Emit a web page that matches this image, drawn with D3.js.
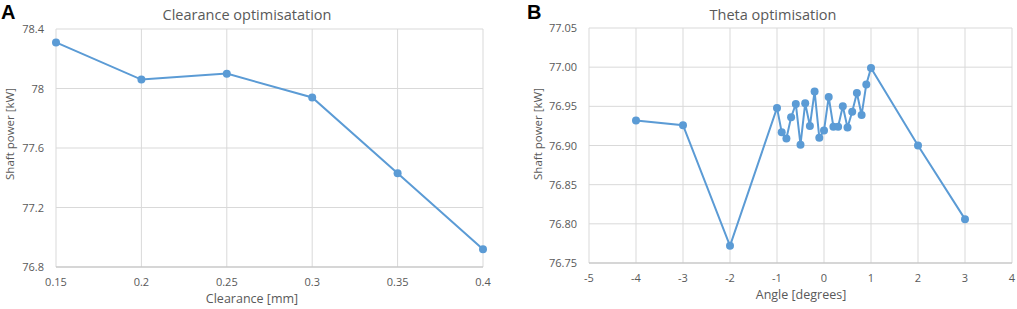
<!DOCTYPE html>
<html>
<head>
<meta charset="utf-8">
<script src="https://cdn.jsdelivr.net/npm/d3@7"></script>
<style>
  body { margin: 0; background: #fff; }
  svg text { font-family: "Open Sans", sans-serif; fill: #595959; }
  .panel-label { font-family: "Liberation Sans", Arial, sans-serif; font-weight: bold; fill: #000; }
</style>
</head>
<body>
<svg id="chart" width="1017" height="309"></svg>
<script>
const clearance = [0.15, 0.2, 0.25, 0.3, 0.35, 0.4];
const clearancePower = [78.31, 78.06, 78.10, 77.94, 77.43, 76.92];
const clearanceXTicks = [0.15, 0.2, 0.25, 0.3, 0.35, 0.4];
const clearanceYTicks = [76.8, 77.2, 77.6, 78, 78.4];

const angle = [-4, -3, -2, -1, -0.9, -0.8, -0.7, -0.6, -0.5, -0.4, -0.3, -0.2, -0.1,
               0, 0.1, 0.2, 0.3, 0.4, 0.5, 0.6, 0.7, 0.8, 0.9, 1, 2, 3];
const anglePower = [76.932, 76.926, 76.772, 76.948, 76.917, 76.909, 76.936, 76.953, 76.901,
                    76.954, 76.925, 76.969, 76.910, 76.919, 76.962, 76.924, 76.924, 76.950,
                    76.923, 76.943, 76.967, 76.939, 76.978, 76.999, 76.900, 76.806];
const angleXTicks = [-5, -4, -3, -2, -1, 0, 1, 2, 3, 4];
const angleYTicks = [76.75, 76.80, 76.85, 76.90, 76.95, 77.00, 77.05];

const lineColor = "#5b9bd5";
const svg = d3.select("#chart");

function drawPanel(opt) {
    const g = svg.append("g");
    let x = d3.scaleLinear().domain(opt.xDomain).range([opt.left, opt.right]);
    let y = d3.scaleLinear().domain(opt.yDomain).range([opt.bottom, opt.top]);

    // gridlines
    g.selectAll(".hgrid")
        .data(opt.yTicks)
        .enter()
        .append("line")
        .attr("x1", opt.left).attr("x2", opt.right)
        .attr("y1", d => y(d)).attr("y2", d => y(d))
        .attr("stroke", "#d9d9d9").attr("stroke-width", 1);
    g.selectAll(".vgrid")
        .data(opt.xTicks)
        .enter()
        .append("line")
        .attr("x1", d => x(d)).attr("x2", d => x(d))
        .attr("y1", opt.top).attr("y2", opt.bottom)
        .attr("stroke", "#d9d9d9").attr("stroke-width", 1);

    // bottom axis line
    g.append("line")
        .attr("x1", opt.left).attr("x2", opt.right)
        .attr("y1", opt.bottom).attr("y2", opt.bottom)
        .attr("stroke", "#bfbfbf").attr("stroke-width", 1.2);

    // tick labels
    g.selectAll(".ylab")
        .data(opt.yTicks)
        .enter()
        .append("text")
        .attr("x", opt.left - 12)
        .attr("y", d => y(d) + 4)
        .attr("text-anchor", "end")
        .attr("font-size", "11px")
        .text(d => opt.yFormat(d));
    g.selectAll(".xlab")
        .data(opt.xTicks)
        .enter()
        .append("text")
        .attr("x", d => x(d))
        .attr("y", opt.bottom + 19)
        .attr("text-anchor", "middle")
        .attr("font-size", "11px")
        .text(d => opt.xFormat(d));

    // titles
    g.append("text")
        .attr("x", opt.titleX).attr("y", 20)
        .attr("text-anchor", "middle")
        .attr("font-size", "14.5px")
        .text(opt.title);
    g.append("text")
        .attr("x", opt.xTitleX).attr("y", opt.bottom + 36)
        .attr("text-anchor", "middle")
        .attr("font-size", "12.5px")
        .text(opt.xTitle);
    g.append("text")
        .attr("transform", "translate(" + opt.yTitleX + ",134) rotate(-90)")
        .attr("text-anchor", "middle")
        .attr("font-size", "11.5px")
        .text("Shaft power [kW]");
    g.append("text")
        .attr("class", "panel-label")
        .attr("x", opt.labelX).attr("y", 19)
        .attr("font-size", "20px")
        .text(opt.label);

    // series
    let pts = opt.xs.map((v, i) => [v, opt.ys[i]]);
    g.append("path")
        .datum(pts)
        .attr("fill", "none")
        .attr("stroke", lineColor)
        .attr("stroke-width", 2)
        .attr("d", d3.line().x(d => x(d[0])).y(d => y(d[1])));
    g.selectAll(".pt")
        .data(pts)
        .enter()
        .append("circle")
        .attr("cx", d => x(d[0]))
        .attr("cy", d => y(d[1]))
        .attr("r", 4)
        .attr("fill", lineColor);
}

drawPanel({
    xs: clearance, ys: clearancePower,
    xDomain: [0.15, 0.4], yDomain: [76.8, 78.4],
    xTicks: clearanceXTicks, yTicks: clearanceYTicks,
    left: 56, right: 483, top: 29, bottom: 267,
    xFormat: d => String(d), yFormat: d => String(d),
    title: "Clearance optimisatation", titleX: 247,
    xTitle: "Clearance [mm]", xTitleX: 252, yTitleX: 14,
    label: "A", labelX: 1
});

drawPanel({
    xs: angle, ys: anglePower,
    xDomain: [-5, 4], yDomain: [76.75, 77.05],
    xTicks: angleXTicks, yTicks: angleYTicks,
    left: 589, right: 1012, top: 28, bottom: 263,
    xFormat: d => String(d), yFormat: d => d.toFixed(2),
    title: "Theta optimisation", titleX: 773,
    xTitle: "Angle [degrees]", xTitleX: 801, yTitleX: 542,
    label: "B", labelX: 527
});
</script>
</body>
</html>
